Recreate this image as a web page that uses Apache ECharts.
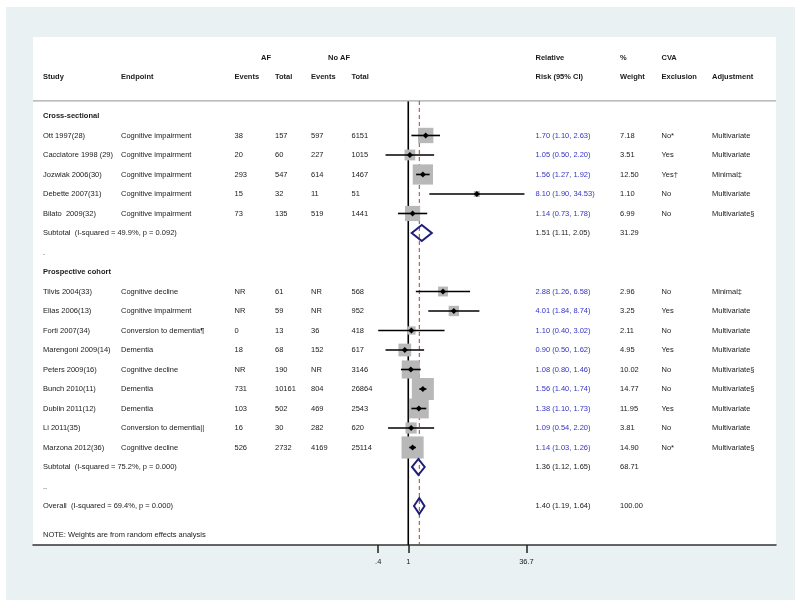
<!DOCTYPE html>
<html><head><meta charset="utf-8">
<script src="https://cdn.jsdelivr.net/npm/echarts@6/dist/echarts.min.js"></script>
<style>
html,body{margin:0;padding:0;background:#fff;}
#bg{position:absolute;left:6px;top:7px;width:789px;height:593px;background:#eaf1f3;}
#c{position:absolute;left:0;top:0;width:800px;height:608px;}
</style>
</head><body><div id="bg"></div><div id="c"></div>
<script>
// ---- data ----
const groups = ['Cross-sectional', 'Prospective cohort'];
const studies = ['Ott 1997(28)', 'Cacciatore 1998 (29)', 'Jozwiak 2006(30)', 'Debette 2007(31)', 'Bilato  2009(32)',
  'Tilvis 2004(33)', 'Elias 2006(13)', 'Forti 2007(34)', 'Marengoni 2009(14)', 'Peters 2009(16)',
  'Bunch 2010(11)', 'Dublin 2011(12)', 'Li 2011(35)', 'Marzona 2012(36)'];
const studyGroup = [0, 0, 0, 0, 0, 1, 1, 1, 1, 1, 1, 1, 1, 1];
const endpoints = ['Cognitive impairment', 'Cognitive impairment', 'Cognitive impairment', 'Cognitive impairment', 'Cognitive impairment',
  'Cognitive decline', 'Cognitive impairment', 'Conversion to dementia\u00b6', 'Dementia', 'Cognitive decline',
  'Dementia', 'Dementia', 'Conversion to dementia||', 'Cognitive decline'];
const afEvents = ['38', '20', '293', '15', '73', 'NR', 'NR', '0', '18', 'NR', '731', '103', '16', '526'];
const afTotal = ['157', '60', '547', '32', '135', '61', '59', '13', '68', '190', '10161', '502', '30', '2732'];
const noAfEvents = ['597', '227', '614', '11', '519', 'NR', 'NR', '36', '152', 'NR', '804', '469', '282', '4169'];
const noAfTotal = ['6151', '1015', '1467', '51', '1441', '568', '952', '418', '617', '3146', '26864', '2543', '620', '25114'];
const rr = [1.70, 1.05, 1.56, 8.10, 1.14, 2.88, 4.01, 1.10, 0.90, 1.08, 1.56, 1.38, 1.09, 1.14];
const rrLo = [1.10, 0.50, 1.27, 1.90, 0.73, 1.26, 1.84, 0.40, 0.50, 0.80, 1.40, 1.10, 0.54, 1.03];
const rrHi = [2.63, 2.20, 1.92, 34.53, 1.78, 6.58, 8.74, 3.02, 1.62, 1.46, 1.74, 1.73, 2.20, 1.26];
const weights = [7.18, 3.51, 12.50, 1.10, 6.99, 2.96, 3.25, 2.11, 4.95, 10.02, 14.77, 11.95, 3.81, 14.90];
const cva = ['No*', 'Yes', 'Yes\u2020', 'No', 'No', 'No', 'Yes', 'No', 'Yes', 'No', 'No', 'Yes', 'No', 'No*'];
const adjustment = ['Multivariate', 'Multivariate', 'Minimal\u2021', 'Multivariate', 'Multivariate\u00a7',
  'Minimal\u2021', 'Multivariate', 'Multivariate', 'Multivariate', 'Multivariate\u00a7',
  'Multivariate\u00a7', 'Multivariate', 'Multivariate', 'Multivariate\u00a7'];
const pooledLabels = ['Subtotal  (I-squared = 49.9%, p = 0.092)', 'Subtotal  (I-squared = 75.2%, p = 0.000)', 'Overall  (I-squared = 69.4%, p = 0.000)'];
const pooledRR = [1.51, 1.36, 1.40];
const pooledLo = [1.11, 1.12, 1.19];
const pooledHi = [2.05, 1.65, 1.64];
const pooledWeight = [31.29, 68.71, 100.00];
const note = 'NOTE: Weights are from random effects analysis';
const tickValues = [0.4, 1, 36.7];
const tickLabels = ['.4', '1', '36.7'];

// ---- row layout ----
const groupRows = [0, 8];
const studyRows = [1, 2, 3, 4, 5, 9, 10, 11, 12, 13, 14, 15, 16, 17];
const pooledRows = [6, 18, 20];
const spacerRows = [[7, '.'], [19, '..']];
const noteRow = 21.5;
const headRow1 = -3, headRow2 = -2, sepRow = -0.77;
const yMin = -4.05, yMax = 22;

const COL = {study: 43, endpoint: 121, afE: 234.5, afT: 275, naE: 311, naT: 351.5, rr: 535.5, w: 620, cva: 661.5, adj: 712, afHead: 266, noAfHead: 339};
const TXT = '#1a1a1a', BLUE = '#3434c4', FONT = '"Liberation Sans", Arial, sans-serif';

const fmt = (a, l, h) => a.toFixed(2) + ' (' + l.toFixed(2) + ', ' + h.toFixed(2) + ')';

// table rows: each {row, cells}
const tableRows = [];
const cell = (x, text, opt) => Object.assign({x, text, color: TXT, bold: false, align: 'left'}, opt || {});
tableRows.push({row: headRow1, cells: [
  cell(COL.afHead, 'AF', {bold: true, align: 'center'}), cell(COL.noAfHead, 'No AF', {bold: true, align: 'center'}),
  cell(COL.rr, 'Relative', {bold: true}), cell(COL.w, '%', {bold: true}), cell(COL.cva, 'CVA', {bold: true})]});
tableRows.push({row: headRow2, cells: [
  cell(COL.study, 'Study', {bold: true}), cell(COL.endpoint, 'Endpoint', {bold: true}),
  cell(COL.afE, 'Events', {bold: true}), cell(COL.afT, 'Total', {bold: true}),
  cell(COL.naE, 'Events', {bold: true}), cell(COL.naT, 'Total', {bold: true}),
  cell(COL.rr, 'Risk (95% CI)', {bold: true}), cell(COL.w, 'Weight', {bold: true}),
  cell(COL.cva, 'Exclusion', {bold: true}), cell(COL.adj, 'Adjustment', {bold: true})]});
groups.forEach((g, i) => tableRows.push({row: groupRows[i], cells: [cell(COL.study, g, {bold: true})]}));
studies.forEach((s, i) => tableRows.push({row: studyRows[i], cells: [
  cell(COL.study, s), cell(COL.endpoint, endpoints[i]), cell(COL.afE, afEvents[i]), cell(COL.afT, afTotal[i]),
  cell(COL.naE, noAfEvents[i]), cell(COL.naT, noAfTotal[i]), cell(COL.rr, fmt(rr[i], rrLo[i], rrHi[i]), {color: BLUE}),
  cell(COL.w, weights[i].toFixed(2)), cell(COL.cva, cva[i]), cell(COL.adj, adjustment[i])]}));
pooledLabels.forEach((p, i) => tableRows.push({row: pooledRows[i], cells: [
  cell(COL.study, p), cell(COL.rr, fmt(pooledRR[i], pooledLo[i], pooledHi[i])), cell(COL.w, pooledWeight[i].toFixed(2))]}));
spacerRows.forEach(s => tableRows.push({row: s[0], cells: [cell(COL.study, s[1])]}));
tableRows.push({row: noteRow, cells: [cell(COL.study, note)]});

const chart = echarts.init(document.getElementById('c'), null, {renderer: 'canvas'});
const L = Math.log;

chart.setOption({
  backgroundColor: 'transparent',
  animation: false,
  grid: {left: 33, right: 24, top: 37, bottom: 63, show: true, backgroundColor: '#ffffff', borderWidth: 0},
  xAxis: {
    type: 'value', min: -11.44, max: 11.21,
    axisLine: {show: true, onZero: false, lineStyle: {color: '#333', width: 1.5}},
    axisTick: {show: true, length: 8, inside: false, lineStyle: {color: '#222', width: 1.5}, customValues: tickValues.map(L)},
    axisLabel: {show: true, margin: 13, fontSize: 7.5, color: TXT, fontFamily: FONT, customValues: tickValues.map(L),
      formatter: v => { let best = 0; tickValues.forEach((t, i) => { if (Math.abs(L(t) - v) < Math.abs(L(tickValues[best]) - v)) best = i; }); return tickLabels[best]; }},
    splitLine: {show: false}
  },
  yAxis: {type: 'value', inverse: true, min: yMin, max: yMax, show: false},
  series: [
    { // table separator + reference lines
      type: 'custom', z: 1, silent: true,
      data: [[L(1), 0], [L(pooledRR[2]), 1]],
      renderItem(params, api) {
        const top = api.coord([api.value(0), sepRow]);
        const bot = api.coord([api.value(0), yMax]);
        const dashed = api.value(1) === 1;
        const children = [{type: 'line', shape: {x1: top[0], y1: top[1], x2: bot[0], y2: bot[1]},
          style: {stroke: dashed ? '#a0403c' : '#000', lineWidth: dashed ? 1 : 1.6, lineDash: dashed ? [4, 3] : null}}];
        if (params.dataIndex === 0) {
          const a = api.coord([-11.44, sepRow]), b = api.coord([11.21, sepRow]);
          children.push({type: 'line', shape: {x1: a[0], y1: a[1], x2: b[0], y2: b[1]}, style: {stroke: '#a8a8a8', lineWidth: 1.2}});
        }
        return {type: 'group', children};
      }
    },
    { // weight squares
      type: 'custom', z: 2, silent: true,
      data: rr.map((v, i) => [L(v), studyRows[i], weights[i]]),
      renderItem(params, api) {
        const c = api.coord([api.value(0), api.value(1)]);
        const s = 5.73 * Math.sqrt(api.value(2));
        return {type: 'rect', shape: {x: c[0] - s / 2, y: c[1] - s / 2, width: s, height: s}, style: {fill: '#b8b8b8'}};
      }
    },
    { // CI lines + point estimates
      type: 'custom', z: 3, silent: true,
      data: rr.map((v, i) => [L(v), studyRows[i], L(rrLo[i]), L(rrHi[i])]),
      renderItem(params, api) {
        const c = api.coord([api.value(0), api.value(1)]);
        const l = api.coord([api.value(2), api.value(1)]);
        const h = api.coord([api.value(3), api.value(1)]);
        const d = 3;
        return {type: 'group', children: [
          {type: 'line', shape: {x1: l[0], y1: l[1], x2: h[0], y2: h[1]}, style: {stroke: '#000', lineWidth: 1.6}},
          {type: 'polygon', shape: {points: [[c[0] - d, c[1]], [c[0], c[1] - d], [c[0] + d, c[1]], [c[0], c[1] + d]]}, style: {fill: '#000'}}
        ]};
      }
    },
    { // pooled diamonds
      type: 'custom', z: 4, silent: true,
      data: pooledRR.map((v, i) => [L(v), pooledRows[i], L(pooledLo[i]), L(pooledHi[i])]),
      renderItem(params, api) {
        const c = api.coord([api.value(0), api.value(1)]);
        const l = api.coord([api.value(2), api.value(1)]);
        const h = api.coord([api.value(3), api.value(1)]);
        const hh = 8;
        return {type: 'polygon', shape: {points: [[l[0], c[1]], [c[0], c[1] - hh], [h[0], c[1]], [c[0], c[1] + hh]]},
          style: {fill: 'none', stroke: '#1e1e7a', lineWidth: 2}};
      }
    },
    { // table text
      type: 'custom', z: 5, silent: true,
      data: tableRows.map((r, i) => [0, r.row, i]),
      renderItem(params, api) {
        const r = tableRows[api.value(2)];
        const y = api.coord([0, api.value(1)])[1];
        return {type: 'group', children: r.cells.map(c => ({
          type: 'text', x: c.x, y: y,
          style: {text: c.text, fill: c.color, fontSize: 7.5, fontFamily: FONT, fontWeight: c.bold ? 'bold' : 'normal',
            align: c.align, verticalAlign: 'middle'}
        }))};
      }
    }
  ]
});
</script>
</body></html>
